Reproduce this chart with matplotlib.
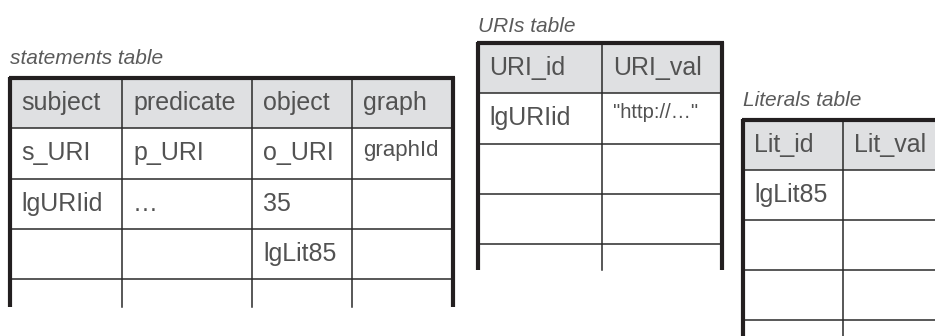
import matplotlib.pyplot as plt
from matplotlib.patches import Rectangle

# table contents
stmt_title = "statements table"
stmt_cols = ["subject", "predicate", "object", "graph"]
stmt_rows = [["s_URI", "p_URI", "o_URI", "graphId"],
             ["lgURIid", "\u2026", "35", ""],
             ["", "", "lgLit85", ""],
             ["", "", "", ""]]

uri_title = "URIs table"
uri_cols = ["URI_id", "URI_val"]
uri_rows = [["lgURIid", "\"http://\u2026\""],
            ["", ""],
            ["", ""],
            ["", ""]]

lit_title = "Literals table"
lit_cols = ["Lit_id", "Lit_val"]
lit_rows = [["lgLit85", ""],
            ["", ""],
            ["", ""],
            ["", ""]]

# cells written in a smaller size (size, vertical shift)
small_cells = {"graphId": (16, -3), "\"http://\u2026\"": (14.5, -6)}

FONT = "Liberation Sans"
TXT = "#525252"
HEAD = "#dfe0e2"
DARK = "#231f20"


def draw_table(ax, title, cols, rows, edges, top, rh, bottom, title_y, right_open=False):
    x0, x1 = edges[0], edges[-1]
    ax.text(x0, title_y, title, fontsize=15, style="italic", color="#5a5a5a",
            family=FONT, va="center", ha="left")
    ax.add_patch(Rectangle((x0, top), x1 - x0, rh, color=HEAD, lw=0, zorder=1))
    # horizontal lines
    y = top + rh
    while y < bottom - 5:
        ax.plot([x0, x1], [y, y], color="#2a2a2a", lw=1.1, zorder=2)
        y += rh
    # inner vertical lines
    for x in edges[1:-1]:
        ax.plot([x, x], [top, bottom], color="#2a2a2a", lw=1.1, zorder=2)
    # thick border, open at the bottom
    ax.plot([x0, x0], [top - 1.5, bottom], color=DARK, lw=3, zorder=3,
            solid_capstyle="butt")
    ax.plot([x0 - 1.5, x1 + 1.5], [top, top], color=DARK, lw=3, zorder=3,
            solid_capstyle="butt")
    if not right_open:
        ax.plot([x1, x1], [top - 1.5, bottom], color=DARK, lw=3, zorder=3,
                solid_capstyle="butt")
    # cell text
    for r, vals in enumerate([cols] + rows):
        yc = top + rh * (r + 0.5)
        for c, v in enumerate(vals):
            if not v:
                continue
            fs, dy = small_cells.get(v, (18, 0))
            ax.text(edges[c] + 11, yc + dy, v, fontsize=fs, color=TXT, family=FONT,
                    va="center", ha="left", zorder=4)


fig = plt.figure(figsize=(9.35, 3.36), dpi=100)
ax = fig.add_axes([0, 0, 1, 1])
ax.set_xlim(0, 935)
ax.set_ylim(336, 0)
ax.axis("off")

draw_table(ax, stmt_title, stmt_cols, stmt_rows, [10, 122, 252, 352, 453],
           78, 50.3, 307, 59)
draw_table(ax, uri_title, uri_cols, uri_rows, [478, 602, 722],
           43, 50.3, 270, 26)
draw_table(ax, lit_title, lit_cols, lit_rows, [743, 843, 960],
           120, 50, 340, 101, right_open=True)

fig.savefig("out.png", dpi=100)
